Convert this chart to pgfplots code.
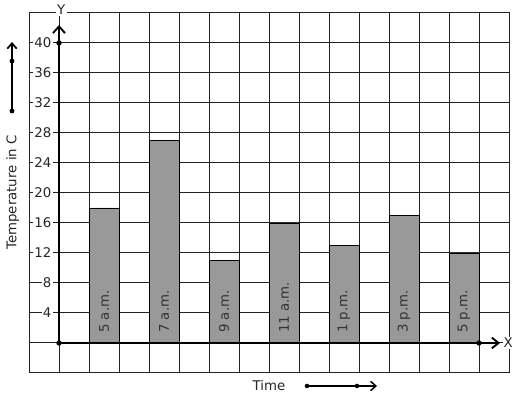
\documentclass[border=0pt]{standalone}
\usepackage{fontspec}
\setmainfont{DejaVu Sans}
\usepackage{pgfplots}
\pgfplotsset{compat=1.18}
\usetikzlibrary{arrows.meta}
\definecolor{gridc}{HTML}{222222}
\definecolor{barc}{HTML}{999999}
\begin{document}
\begin{tikzpicture}
\useasboundingbox (0,0) rectangle (387.75pt,299.25pt);
\begin{axis}[
  at={(21.75pt,19.5pt)}, anchor=south west,
  scale only axis, width=360pt, height=270pt,
  xmin=-1, xmax=15, ymin=-4, ymax=44,
  xtick={-1,0,...,15}, ytick={-4,0,...,44},
  xticklabels={}, yticklabels={},
  major tick length=0pt,
  grid=major,
  major grid style={gridc, line width=0.75pt},
  axis line style={gridc, line width=0.75pt},
  clip=false,
  font=\fontsize{10}{12}\selectfont,
]
\addplot[ybar, bar width=1, fill=barc, draw=black, line width=0.6pt]
  coordinates {(1.5,18) (3.5,27) (5.5,11) (7.5,16) (9.5,13) (11.5,17) (13.5,12)};

% tick labels
\pgfplotsinvokeforeach{4,8,12,16,20,24,28,32,36,40}{
  \node[anchor=east, fill=white, inner sep=1pt, text=black!85] at (axis cs:-0.2,#1) {#1};
}

% bar labels
\node[rotate=90, anchor=west, inner sep=0pt, text=black!80] at (axis cs:1.5,1.33) {5 a.m.};
\node[rotate=90, anchor=west, inner sep=0pt, text=black!80] at (axis cs:3.5,1.33) {7 a.m.};
\node[rotate=90, anchor=west, inner sep=0pt, text=black!80] at (axis cs:5.5,1.33) {9 a.m.};
\node[rotate=90, anchor=west, inner sep=0pt, text=black!80] at (axis cs:7.5,1.33) {11 a.m.};
\node[rotate=90, anchor=west, inner sep=0pt, text=black!80] at (axis cs:9.5,1.33) {1 p.m.};
\node[rotate=90, anchor=west, inner sep=0pt, text=black!80] at (axis cs:11.5,1.33) {3 p.m.};
\node[rotate=90, anchor=west, inner sep=0pt, text=black!80] at (axis cs:13.5,1.33) {5 p.m.};

% main axes
\draw[black, line width=2pt, -{Straight Barb[length=5pt,width=9pt,line width=1.4pt]}]
  (axis cs:0,0) -- (axis cs:0,42.4);
\draw[black, line width=2pt, -{Straight Barb[length=5pt,width=8pt,line width=1.4pt]}]
  (axis cs:0,0) -- (axis cs:14.7,0);
\fill[black] (axis cs:0,0) circle (2pt);
\fill[black] (axis cs:0,40) circle (2pt);
\fill[black] (axis cs:14,0) circle (2pt);

\node[fill=white, inner sep=1pt, text=black!85] at (axis cs:0.07,44.4) {Y};
\node[fill=white, inner sep=0.5pt, text=black!85] at (axis cs:14.97,0) {X};

% axis titles
\node[rotate=90, anchor=base, text=black!85] at (axis cs:-1.417,20.07) {Temperature in C};
\node[anchor=base, text=black!85] at (axis cs:7.0,-6.267) {Time};

% decorative arrows
\draw[black, line width=1.8pt, -{Straight Barb[length=4pt,width=7pt,line width=1.3pt]}]
  (axis cs:-1.567,30.93) -- (axis cs:-1.567,40.13);
\fill[black] (axis cs:-1.567,30.93) circle (1.8pt);
\fill[black] (axis cs:-1.567,37.6) circle (1.8pt);
\draw[black, line width=1.2pt, -{Straight Barb[length=4pt,width=7pt,line width=1.1pt]}]
  (axis cs:8.267,-5.73) -- (axis cs:10.6,-5.73);
\fill[black] (axis cs:8.267,-5.73) circle (1.7pt);
\fill[black] (axis cs:9.933,-5.73) circle (1.7pt);
\end{axis}
\end{tikzpicture}
\end{document}
